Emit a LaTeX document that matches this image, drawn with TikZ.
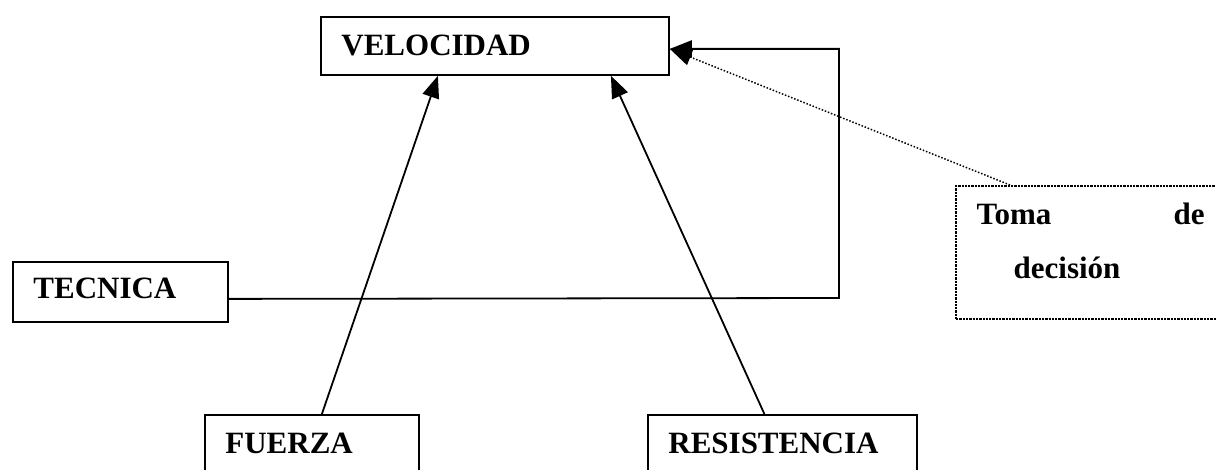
\documentclass[tikz,border=0pt]{standalone}
\usepackage{fontspec}
\setmainfont{Liberation Serif}
\usetikzlibrary{arrows.meta}

\tikzset{
  factor/.style={draw,line width=1.8pt,anchor=north west,align=left,inner ysep=0pt,inner xsep=20.5pt,
    font=\fontsize{31}{37}\selectfont\bfseries},
  decision/.style={factor,line width=2.3pt,densely dotted,font=\fontsize{31}{54}\selectfont\bfseries},
  link/.style={line width=1.8pt,-{Triangle[length=22pt,width=17pt]}},
}

\begin{document}
\begin{tikzpicture}[x=1pt,y=-1pt]
  \useasboundingbox (0,0) rectangle (1216,470);
  \node[factor,text width=307pt,text height=39pt,text depth=19pt] (velocidad) at (320,16) {VELOCIDAD};
  \node[factor,text width=174pt,text height=37pt,text depth=23pt] (tecnica) at (12,261) {TECNICA};
  \node[factor,text width=173pt,text height=39pt,text depth=19pt] (fuerza) at (204,414) {FUERZA};
  \node[factor,text width=228pt,text height=39pt,text depth=19pt] (resistencia) at (647,414) {RESISTENCIA};
  \node[decision,text width=228pt,text height=38pt,text depth=95pt] (toma) at (955,185)
    {Toma \hfill de\\\hspace*{37pt}decisión};
  \coordinate (esquina) at (839,298);
  % flechas hacia velocidad
  \draw[link] ([xshift=10pt]fuerza.north) -- ([xshift=-57pt]velocidad.south);
  \draw[link] ([xshift=-18pt]resistencia.north) -- ([xshift=116pt]velocidad.south);
  \draw[link] (tecnica.base east) -- (esquina) |- ([yshift=-3pt]velocidad.east);
  \draw[link,line width=1.5pt,dash pattern=on 1.5pt off 1.8pt] ([xshift=55pt]toma.north west) -- ([yshift=-3pt]velocidad.east);
\end{tikzpicture}
\end{document}
